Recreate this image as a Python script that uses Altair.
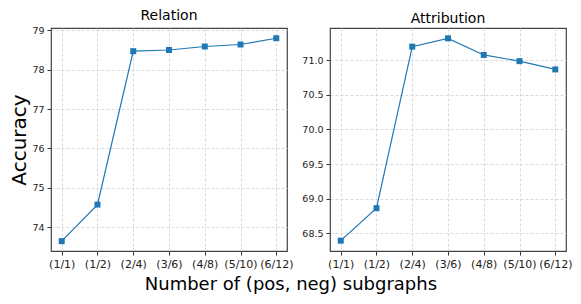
import altair as alt
import pandas as pd

labels = ["(1/1)", "(1/2)", "(2/4)", "(3/6)", "(4/8)", "(5/10)", "(6/12)"]
relation = [73.64, 74.57, 78.47, 78.50, 78.59, 78.64, 78.80]
attribution = [68.39, 68.86, 71.20, 71.32, 71.08, 70.99, 70.87]

df_rel = pd.DataFrame({"k": labels, "acc": relation})
df_att = pd.DataFrame({"k": labels, "acc": attribution})

BLUE = "#1f77b4"
FONT = "DejaVu Sans"


def panel(df, title, domain, ticks, fmt, ytitle):
    x = alt.X("k:N", sort=labels, scale=alt.Scale(type="point", padding=0.3),
              axis=alt.Axis(title=None, labelAngle=0, labelFontSize=11,
                            labelPadding=3))
    if ytitle:
        yaxis = alt.Axis(values=ticks, format=fmt, labelFontSize=9.5,
                         labelPadding=3, title=ytitle, titleFontSize=20,
                         titleFontWeight="normal", titlePadding=2)
    else:
        yaxis = alt.Axis(values=ticks, format=fmt, labelFontSize=9.5,
                         labelPadding=3, title=None)
    y = alt.Y("acc:Q", scale=alt.Scale(domain=domain, zero=False, nice=False),
              axis=yaxis)
    return alt.Chart(df).mark_line(
        color=BLUE, strokeWidth=1.2, clip=True,
        point=alt.OverlayMarkDef(shape="square", size=36, filled=True,
                                 color=BLUE, opacity=1)
    ).encode(x=x, y=y).properties(
        width=236, height=223,
        title=alt.TitleParams(title, fontSize=14, fontWeight="normal",
                              font=FONT, offset=2, color="black",
                              frame="group"))


left = panel(df_rel, "Relation", [73.39, 79.06], [74, 75, 76, 77, 78, 79], "d", "Accuracy")
right = panel(df_att, "Attribution", [68.24, 71.47],
              [68.5, 69.0, 69.5, 70.0, 70.5, 71.0], ".1f", None)

chart = alt.hconcat(left, right, spacing=43, bounds="flush").properties(
    padding={"left": 1, "top": 0, "right": 0, "bottom": 0},
    title=alt.TitleParams("Number of (pos, neg) subgraphs", orient="bottom",
                          anchor="middle", fontSize=18, fontWeight="normal",
                          font=FONT, offset=6, color="black")
).configure_axis(
    labelFont=FONT, titleFont=FONT, labelColor="#222", titleColor="black",
    grid=True, gridColor="#d0d0d0", gridDash=[3, 2], gridWidth=0.8,
    tickColor="#333", tickSize=4, domain=False
).configure_view(
    stroke="#444", strokeWidth=1.2
)

chart.save("out.html", embed_options={"renderer": "svg", "actions": False})
